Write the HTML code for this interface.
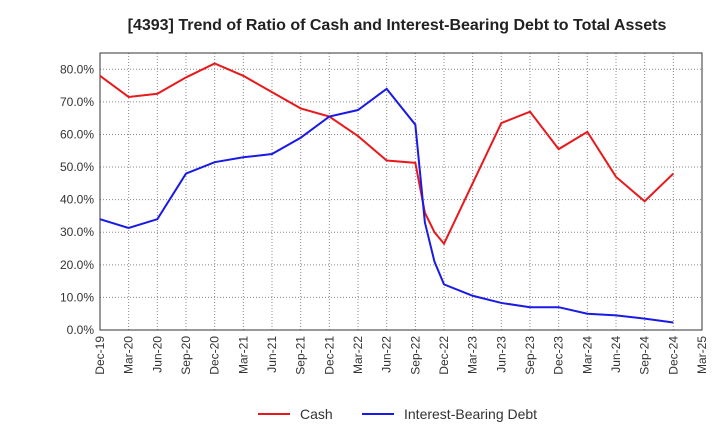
<!DOCTYPE html>
<html><head><meta charset="utf-8"><style>
body{margin:0;background:#fff;font-family:"Liberation Sans",sans-serif;}
</style></head><body>
<svg id="c" width="720" height="440" xmlns="http://www.w3.org/2000/svg">
<text x="397" y="30" text-anchor="middle" font-size="16" font-weight="bold" fill="#222">[4393]  Trend of Ratio of Cash and Interest-Bearing Debt to Total Assets</text>
</svg>
<script>
const xTickLabels=["Dec-19","Mar-20","Jun-20","Sep-20","Dec-20","Mar-21","Jun-21","Sep-21","Dec-21","Mar-22","Jun-22","Sep-22","Dec-22","Mar-23","Jun-23","Sep-23","Dec-23","Mar-24","Jun-24","Sep-24","Dec-24","Mar-25"];
const yTicks=[0,10,20,30,40,50,60,70,80];
const monthIdx=[0,3,6,9,12,15,18,21,24,27,30,33,34,35,36,39,42,45,48,51,54,57,60];
const cashVals=[78,71.5,72.5,77.5,81.8,78,73,68,65.5,59.5,52,51.3,36,30,26.5,45,63.5,67,55.5,60.8,47,39.5,48];
const debtVals=[34,31.3,34,48,51.5,53,54,59,65.5,67.5,74,63,33,21,14,10.5,8.3,7,7,5,4.5,3.5,2.3];
const svg=document.getElementById('c');const NS='http://www.w3.org/2000/svg';
const L=100,R=702,T=53,B=330;
const xs=m=>L+m/63*(R-L);
const ys=v=>B-v/85*(B-T);
function mk(t,a,p){const e=document.createElementNS(NS,t);for(const k in a)e.setAttribute(k,a[k]);(p||svg).appendChild(e);return e;}
mk('rect',{x:L,y:T,width:R-L,height:B-T,fill:'#fff',stroke:'#333','stroke-width':1});
yTicks.forEach(v=>{const y=ys(v);
 const g=mk('line',{x1:L,x2:R,y1:y,y2:y,stroke:'#888','stroke-dasharray':'1,2'});
 
 const t=mk('text',{x:L-6,y:y+4,'text-anchor':'end','font-size':12,fill:'#333'});t.textContent=v.toFixed(1)+'%';
 });
xTickLabels.forEach((s,i)=>{const x=xs(i*3);
 const g=mk('line',{x1:x,x2:x,y1:T,y2:B,stroke:'#888','stroke-dasharray':'1,2'});
 
 const t=mk('text',{x:x+4,y:B+6,'text-anchor':'end','font-size':12,fill:'#333',transform:`rotate(-90 ${x+4} ${B+6})`});t.textContent=s;
 });
mk('rect',{x:L,y:T,width:R-L,height:B-T,fill:'none',stroke:'#333','stroke-width':1});
function line(vals,col,name){const p=mk('polyline',{points:vals.map((v,i)=>xs(monthIdx[i])+','+ys(v)).join(' '),fill:'none',stroke:col,'stroke-width':2});
 }
line(cashVals,'#e8191c','cash-line');line(debtVals,'#1a1ae6','debt-line');
function leg(x,col,label,name){const g=mk('g',{});
 mk('line',{x1:x,x2:x+32,y1:414,y2:414,stroke:col,'stroke-width':2},g);
 const t=mk('text',{x:x+42,y:419,'font-size':14,fill:'#333'},g);t.textContent=label;}
leg(258,'#e8191c','Cash','legend-cash');leg(362,'#1a1ae6','Interest-Bearing Debt','legend-debt');
</script>
</body></html>
